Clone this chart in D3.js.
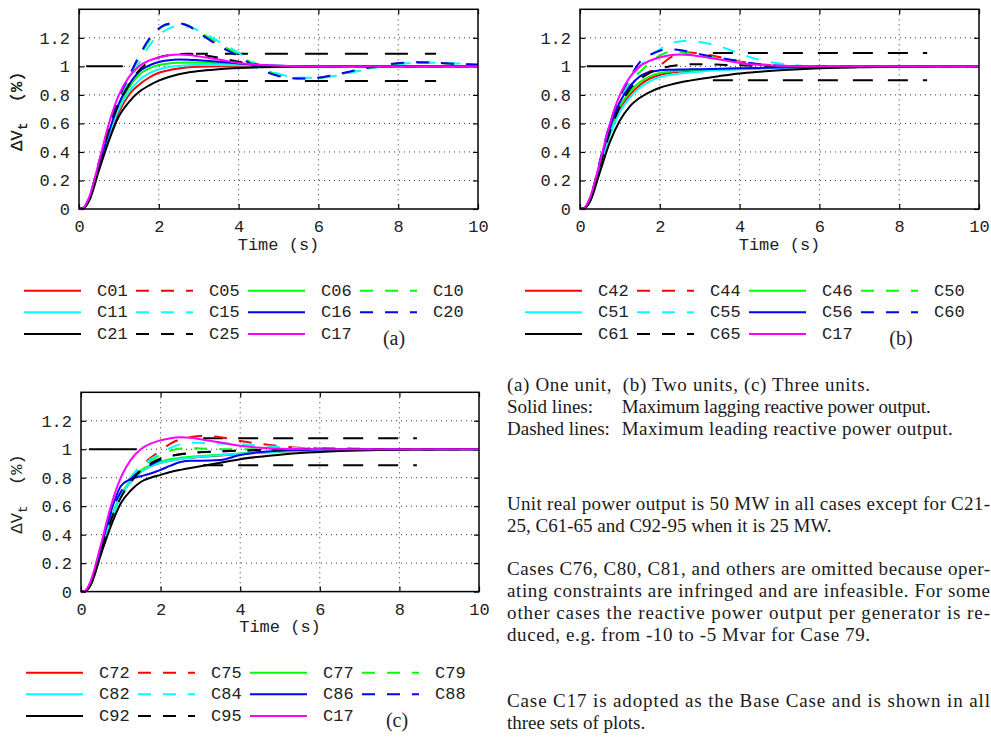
<!DOCTYPE html>
<html><head><meta charset="utf-8">
<script src="https://cdn.jsdelivr.net/npm/d3@7"></script>
<style>body{margin:0;background:#fff}svg{display:block}</style>
</head><body>
<svg id="c" width="991" height="740"></svg>
<script>
// time grid (s)
const T = [0,0.1,0.25,0.5,0.75,1,1.25,1.5,1.75,2,2.25,2.5,2.75,3,3.5,4,4.5,5,5.5,6,6.5,7,7.5,8,8.5,9,9.5,10];
const xTicks = [0,2,4,6,8,10];
const yTicks = [0,0.2,0.4,0.6,0.8,1,1.2];

// Base case (all panels)
const C17 = [0,0.005,0.08,0.33,0.6,0.8,0.925,1.0,1.04,1.063,1.078,1.084,1.08,1.07,1.048,1.024,1.011,1.004,1.001,1,1,1,1,1,1,1,1,1];

// Panel (a) one unit
const C01 = [0,0.003,0.06,0.29,0.51,0.68,0.8,0.87,0.92,0.955,0.973,0.985,0.993,0.997,1.0,1.0,1.0,1,1,1,1,1,1,1,1,1,1,1];
const C05 = [0,0.004,0.07,0.32,0.57,0.77,0.92,1.06,1.18,1.26,1.295,1.3,1.283,1.24,1.155,1.078,0.993,0.937,0.916,0.92,0.944,0.974,0.999,1.02,1.027,1.025,1.018,1.012];
const C06 = [0,0.003,0.065,0.3,0.53,0.72,0.85,0.94,0.985,1.01,1.02,1.025,1.027,1.027,1.022,1.015,1.008,1.004,1.002,1,1,1,1,1,1,1,1,1];
const C10 = [0,0.004,0.07,0.32,0.57,0.77,0.92,1.06,1.18,1.26,1.295,1.3,1.286,1.245,1.16,1.082,0.997,0.94,0.917,0.919,0.942,0.972,0.997,1.018,1.026,1.025,1.018,1.012];
const C11 = [0,0.003,0.06,0.29,0.52,0.7,0.82,0.9,0.95,0.98,0.995,1.003,1.008,1.01,1.01,1.008,1.005,1.003,1.001,1,1,1,1,1,1,1,1,1];
const C15 = [0,0.003,0.065,0.3,0.55,0.74,0.89,1.02,1.14,1.22,1.265,1.282,1.278,1.25,1.175,1.095,1.01,0.948,0.922,0.919,0.938,0.967,0.994,1.015,1.025,1.025,1.02,1.014];
const C16 = [0,0.003,0.065,0.3,0.54,0.74,0.87,0.96,1.005,1.03,1.043,1.048,1.047,1.043,1.033,1.02,1.01,1.004,1.001,1,1,1,1,1,1,1,1,1];
const C20 = [0,0.004,0.075,0.33,0.58,0.78,0.93,1.07,1.19,1.265,1.298,1.302,1.282,1.235,1.145,1.07,0.985,0.932,0.914,0.92,0.946,0.977,1.002,1.022,1.028,1.025,1.017,1.011];
const C21 = [0,0.003,0.055,0.27,0.48,0.65,0.75,0.82,0.865,0.9,0.925,0.945,0.958,0.968,0.98,0.988,0.993,0.996,0.998,0.999,1,1,1,1,1,1,1,1];
const C25 = [0,0.004,0.07,0.32,0.56,0.74,0.87,0.97,1.03,1.062,1.078,1.086,1.088,1.083,1.06,1.032,1.012,1.003,1.0,1,1,1,1,1,1,1,1,1];

// Panel (b) two units
const C42 = [0,0.003,0.06,0.3,0.53,0.7,0.8,0.87,0.915,0.94,0.953,0.962,0.968,0.972,0.978,0.983,0.987,0.99,0.993,0.995,0.997,0.998,0.999,1,1,1,1,1];
const C44 = [0,0.004,0.07,0.32,0.56,0.74,0.86,0.93,0.965,1.005,1.06,1.09,1.097,1.09,1.065,1.035,1.015,1.005,1.001,1,1,1,1,1,1,1,1,1];
const C46 = [0,0.003,0.065,0.31,0.55,0.72,0.82,0.89,0.93,0.953,0.963,0.968,0.972,0.975,0.98,0.984,0.988,0.991,0.994,0.996,0.998,0.999,1,1,1,1,1,1];
const C50 = [0,0.004,0.07,0.33,0.58,0.77,0.89,0.96,1.025,1.075,1.1,1.1,1.09,1.08,1.055,1.03,1.012,1.004,1.001,1,1,1,1,1,1,1,1,1];
const C51 = [0,0.003,0.06,0.29,0.52,0.68,0.78,0.85,0.895,0.925,0.94,0.95,0.957,0.963,0.972,0.979,0.985,0.989,0.992,0.995,0.997,0.998,0.999,1,1,1,1,1];
const C55 = [0,0.004,0.07,0.32,0.57,0.75,0.89,1.0,1.07,1.12,1.16,1.175,1.18,1.17,1.14,1.09,1.045,1.02,1.005,1.0,1,1,1,1,1,1,1,1];
const C56 = [0,0.003,0.07,0.32,0.57,0.75,0.86,0.93,0.96,0.972,0.976,0.978,0.979,0.98,0.983,0.986,0.989,0.992,0.994,0.996,0.998,0.999,1,1,1,1,1,1];
const C60 = [0,0.004,0.075,0.34,0.6,0.79,0.92,1.03,1.08,1.11,1.12,1.115,1.1,1.085,1.06,1.035,1.015,1.005,1.0,0.998,0.999,1,1,1,1,1,1,1];
const C61 = [0,0.003,0.05,0.26,0.47,0.62,0.72,0.78,0.82,0.85,0.87,0.887,0.9,0.912,0.932,0.95,0.962,0.972,0.98,0.986,0.99,0.993,0.996,0.998,0.999,1,1,1];
const C65 = [0,0.003,0.06,0.3,0.54,0.72,0.84,0.91,0.955,0.985,1.0,1.01,1.015,1.015,1.012,1.007,1.003,1.0,1,1,1,1,1,1,1,1,1,1];

// Panel (c) three units
const C72 = [0,0.003,0.055,0.28,0.5,0.67,0.77,0.84,0.88,0.905,0.92,0.932,0.94,0.946,0.956,0.966,0.975,0.982,0.988,0.992,0.995,0.997,0.999,1,1,1,1,1];
const C75 = [0,0.003,0.06,0.29,0.52,0.69,0.8,0.88,0.94,0.99,1.04,1.07,1.085,1.093,1.085,1.058,1.038,1.022,1.01,1.005,1.002,1,1,1,1,1,1,1];
const C77 = [0,0.003,0.06,0.29,0.51,0.68,0.78,0.85,0.89,0.915,0.93,0.94,0.948,0.953,0.962,0.97,0.978,0.985,0.99,0.994,0.997,0.999,1,1,1,1,1,1];
const C79 = [0,0.003,0.06,0.29,0.52,0.69,0.8,0.87,0.92,0.96,0.99,1.005,1.008,1.005,1.0,1,1,1,1,1,1,1,1,1,1,1,1,1];
const C82 = [0,0.003,0.055,0.28,0.5,0.67,0.77,0.84,0.88,0.905,0.92,0.932,0.94,0.947,0.958,0.968,0.977,0.984,0.99,0.994,0.997,0.999,1,1,1,1,1,1];
const C84 = [0,0.003,0.06,0.29,0.52,0.69,0.8,0.88,0.93,0.97,1.01,1.035,1.045,1.045,1.04,1.035,1.025,1.015,1.008,1.003,1,1,1,1,1,1,1,1];
const C86 = [0,0.003,0.065,0.31,0.56,0.74,0.79,0.81,0.83,0.855,0.885,0.91,0.92,0.92,0.925,0.96,0.98,0.99,0.995,0.998,1,1,1,1,1,1,1,1];
const C88 = [0,0.003,0.065,0.31,0.55,0.7,0.79,0.85,0.89,0.925,0.95,0.965,0.975,0.98,0.985,0.99,0.995,1.0,1.003,1.005,1.005,1.003,1.0,1,1,1,1,1];
const C92 = [0,0.003,0.05,0.26,0.46,0.62,0.71,0.77,0.8,0.82,0.84,0.855,0.868,0.88,0.905,0.93,0.948,0.962,0.973,0.981,0.987,0.991,0.994,0.997,0.998,0.999,1,1];
const C95 = [0,0.003,0.055,0.28,0.5,0.66,0.77,0.85,0.9,0.935,0.955,0.965,0.972,0.978,0.985,0.99,0.995,0.998,1,1,1,1,1,1,1,1,1,1];

// legend case names per panel (order: solid, dashed pairs by colour, then C17)
const namesA = ["C01","C05","C06","C10","C11","C15","C16","C20","C21","C25","C17"];
const namesB = ["C42","C44","C46","C50","C51","C55","C56","C60","C61","C65","C17"];
const namesC = ["C72","C75","C77","C79","C82","C84","C86","C88","C92","C95","C17"];
const dataByName = {C01,C05,C06,C10,C11,C15,C16,C20,C21,C25,C17,C42,C44,C46,C50,C51,C55,C56,C60,C61,C65,C72,C75,C77,C79,C82,C84,C86,C88,C92,C95};

// tolerance band [t start, t end, upper, lower] and reference segment [t start, t end, level]
const bandA = [2.93, 8.95, 1.088, 0.898];
const bandB = [3.33, 8.7, 1.094, 0.903];
const bandC = [3.07, 8.44, 1.078, 0.888];
const refA = [0.18, 1.1, 1];
const refB = [0.17, 1.33, 1];
const refC = [0.2, 1.4, 1];

const labels = ["(a)","(b)","(c)"];

// ----- styles -----
const colours = ["#ff0000","#ff0000","#00ff00","#00ff00","#00ffff","#00ffff","#0000ff","#0000ff","#000000","#000000","#ff00ff"];
const dashed =  [false,true,false,true,false,true,false,true,false,true,false];
const MONO = "'Liberation Mono','Courier New',monospace";
const SERIF = "'Liberation Serif','Times New Roman',serif";

const svg = d3.select("#c");

const panels = [
  {left:79, top:9.3, w:399, h:199.7, names:namesA, band:bandA, ref:refA, bandDash:"23,17", bandOff:11, legX:24, legY:290.7, lab:labels[0], labX:394},
  {left:580, top:9.3, w:399, h:199.7, names:namesB, band:bandB, ref:refB, bandDash:"20,15", bandOff:0, legX:525, legY:290.7, lab:labels[1], labX:901},
  {left:81, top:392.3, w:398, h:199.3, names:namesC, band:bandC, ref:refC, bandDash:"20,15", bandOff:0, legX:26, legY:672.7, lab:labels[2], labX:397}
];

panels.forEach(p => {
  const g = svg.append("g");
  const x = d3.scaleLinear().domain([0,10]).range([p.left, p.left+p.w]);
  const y = d3.scaleLinear().domain([0,1.4]).range([p.top+p.h, p.top]);

  // grid
  const grid = g.append("g").attr("stroke","#333").attr("stroke-width",1).attr("stroke-dasharray","1,4");
  xTicks.slice(1,-1).forEach(t => grid.append("line").attr("x1",x(t)).attr("x2",x(t)).attr("y1",p.top).attr("y2",p.top+p.h));
  yTicks.slice(1).forEach(v => grid.append("line").attr("x1",p.left).attr("x2",p.left+p.w).attr("y1",y(v)).attr("y2",y(v)));

  // axes (ticks inward)
  const ax = (gen, tr, ticks) => {
    const a = g.append("g").attr("transform",tr)
      .call(gen.tickValues(ticks).tickFormat(d => String(d)).tickSizeInner(-5).tickSizeOuter(0).tickPadding(9));
    a.select(".domain").remove();
    a.selectAll("line").attr("stroke","#000").attr("stroke-width",1.2);
    a.selectAll("text").attr("font-family",MONO).attr("font-size",17).attr("fill","#222");
    return a;
  };
  const bx = ax(d3.axisBottom(x), `translate(0,${p.top+p.h})`, xTicks);
  bx.selectAll("text").attr("dy","0.85em");
  const tx = ax(d3.axisTop(x), `translate(0,${p.top})`, xTicks); tx.selectAll("text").remove();
  const ly = ax(d3.axisLeft(y), `translate(${p.left},0)`, yTicks);
  const ry = ax(d3.axisRight(y), `translate(${p.left+p.w},0)`, yTicks); ry.selectAll("text").remove();

  // reference segment
  g.append("line").attr("x1",x(p.ref[0])).attr("x2",x(p.ref[1])).attr("y1",y(p.ref[2])).attr("y2",y(p.ref[2]))
    .attr("stroke","#000").attr("stroke-width",2);
  // band
  [p.band[2], p.band[3]].forEach(v => g.append("line").attr("x1",x(p.band[0])).attr("x2",x(p.band[1]))
    .attr("y1",y(v)).attr("y2",y(v)).attr("stroke","#000").attr("stroke-width",2)
    .attr("stroke-dasharray",p.bandDash).attr("stroke-dashoffset",p.bandOff));

  // curves
  const line = d3.line().x((d,i)=>x(T[i])).y(d=>y(d)).curve(d3.curveMonotoneX);
  p.names.forEach((n,i) => {
    g.append("path").attr("d",line(dataByName[n])).attr("fill","none")
      .attr("stroke",colours[i]).attr("stroke-width",2)
      .attr("stroke-dasharray",dashed[i] ? "13,12" : null);
  });

  // frame
  g.append("rect").attr("x",p.left).attr("y",p.top).attr("width",p.w).attr("height",p.h)
    .attr("fill","none").attr("stroke","#000").attr("stroke-width",1.5);

  // axis labels
  g.append("text").attr("x",p.left+p.w/2).attr("y",p.top+p.h+40.5).attr("text-anchor","middle")
    .attr("font-family",MONO).attr("font-size",17).attr("fill","#222").text("Time (s)");
  const yl = g.append("text").attr("transform",`translate(22,${p.top+p.h/2+2}) rotate(-90)`)
    .attr("text-anchor","middle").attr("font-family",MONO).attr("font-size",17).attr("fill","#222")
    .style("white-space","pre");
  yl.append("tspan").text("\u0394V");
  yl.append("tspan").attr("dy",5).attr("font-size",13).text("t");
  yl.append("tspan").attr("dy",-5).text("  (%)");

  // legend
  p.names.forEach((n,i) => {
    const col = i % 4, row = Math.floor(i/4);
    const lx = p.legX + col*112, ly2 = p.legY + row*21.6;
    g.append("line").attr("x1",lx).attr("x2",lx+57).attr("y1",ly2).attr("y2",ly2)
      .attr("stroke",colours[i]).attr("stroke-width",2)
      .attr("stroke-dasharray",dashed[i] ? "13,12" : null);
    g.append("text").attr("x",lx+73).attr("y",ly2+5).attr("font-family",MONO).attr("font-size",17)
      .attr("fill","#222").text(n);
  });
  g.append("text").attr("x",p.labX).attr("y",p.legY+2*21.6+11).attr("text-anchor","middle")
    .attr("font-family",SERIF).attr("font-size",20).attr("fill","#222").text(p.lab);
});

// text block
const notes = [
  {x:507, y:391, w:363, t:"(a) One unit,  (b) Two units, (c) Three units."},
  {x:507, y:413, w:null, t:"Solid lines:"},
  {x:621.7, y:413, w:309, t:"Maximum lagging reactive power output."},
  {x:507, y:435, w:null, t:"Dashed lines:"},
  {x:621.7, y:435, w:331, t:"Maximum leading reactive power output."},
  {x:507, y:510, w:483, t:"Unit real power output is 50 MW in all cases except for C21-"},
  {x:507, y:532, w:null, t:"25, C61-65 and C92-95 when it is 25 MW."},
  {x:507, y:575, w:483, t:"Cases C76, C80, C81, and others are omitted because oper-"},
  {x:507, y:597, w:483, t:"ating constraints are infringed and are infeasible. For some"},
  {x:507, y:619, w:483, t:"other cases the reactive power output per generator is re-"},
  {x:507, y:641, w:363, t:"duced, e.g. from -10 to -5 Mvar for Case 79."},
  {x:507, y:707, w:483, t:"Case C17 is adopted as the Base Case and is shown in all"},
  {x:507, y:729, w:null, t:"three sets of plots."}
];
notes.forEach(d => {
  const t = svg.append("text").attr("x",d.x).attr("y",d.y).attr("font-family",SERIF).attr("font-size",19)
    .attr("fill","#1a1a1a").style("white-space","pre").text(d.t);
  if (d.w) t.attr("textLength",d.w).attr("lengthAdjust","spacing");
});
</script>
</body></html>
